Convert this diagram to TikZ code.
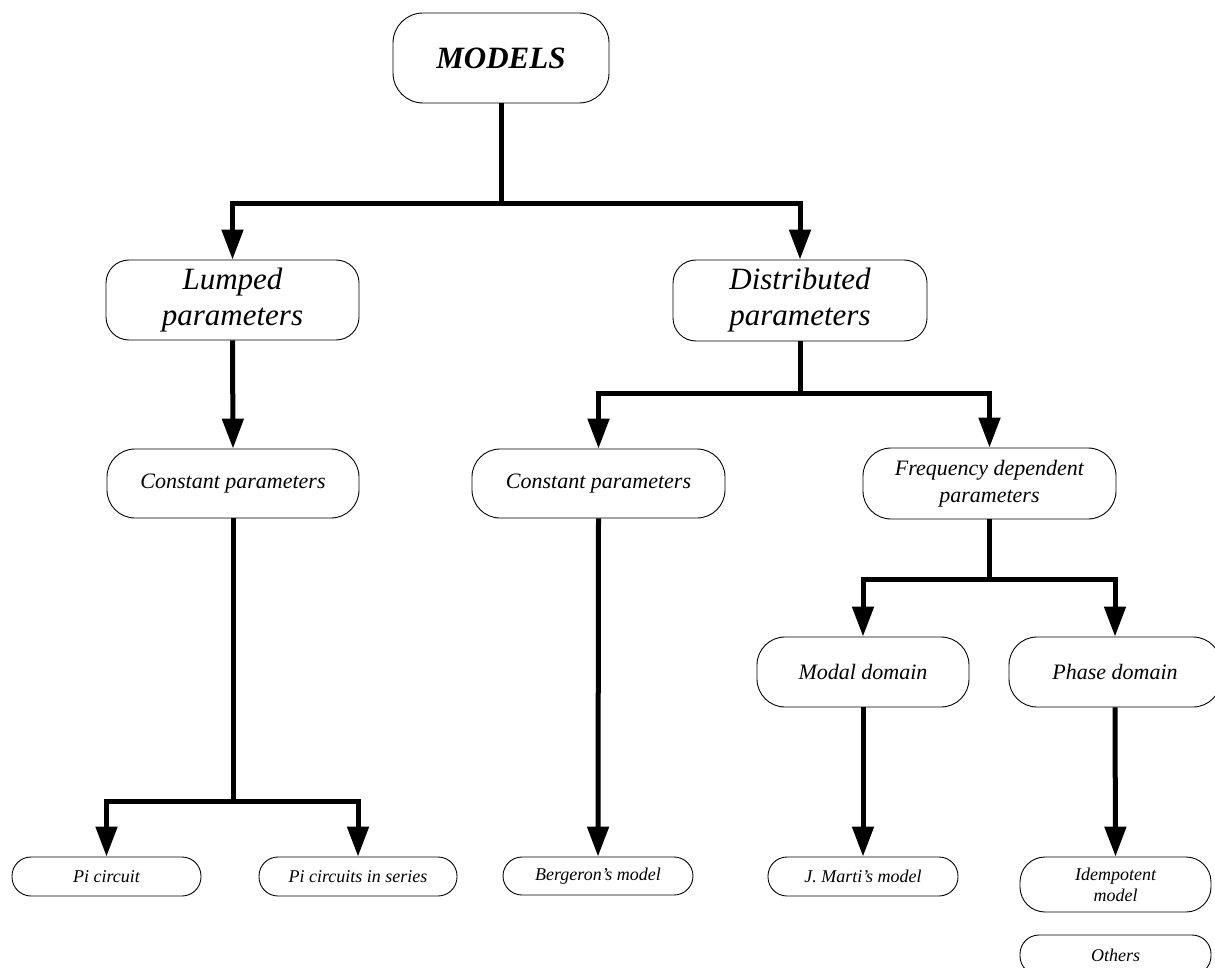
\documentclass[tikz,border=0pt]{standalone}
\usepackage{fontspec}
\setmainfont{Liberation Serif}
\usetikzlibrary{arrows.meta}
\begin{document}
\begin{tikzpicture}[x=1pt,y=-1pt,
  box/.style={draw, line width=0.9pt, inner sep=0pt, align=center},
  bigfont/.style={font=\fontsize{31}{36}\selectfont\itshape},
  midfont/.style={font=\fontsize{22}{27}\selectfont\itshape},
  smallfont/.style={font=\fontsize{18}{21}\selectfont\itshape},
  link/.style={line width=5pt},
  arr/.style={line width=5pt, -{Triangle[length=30pt,width=21pt]}}]
\useasboundingbox (0,0) rectangle (1215,968);

% nodes
\node[box, rounded corners=30pt, minimum width=216pt, minimum height=90pt,
      font=\fontsize{31}{36}\selectfont\bfseries\itshape] (models) at (501,58) {MODELS};
\node[box, bigfont, rounded corners=23pt, minimum width=253pt, minimum height=80pt] (lumped) at (232.5,300) {Lumped\\parameters};
\node[box, bigfont, rounded corners=23pt, minimum width=254pt, minimum height=81pt] (dist) at (800,300.5) {Distributed\\parameters};
\node[box, midfont, rounded corners=28pt, minimum width=252pt, minimum height=69pt] (constL) at (233,483.5) {Constant parameters};
\node[box, midfont, rounded corners=28pt, minimum width=253pt, minimum height=69pt] (constM) at (598.5,483.5) {Constant parameters};
\node[box, midfont, rounded corners=28pt, minimum width=253pt, minimum height=71pt] (freq) at (989.5,483.5) {Frequency dependent\\parameters};
\node[box, midfont, rounded corners=28pt, minimum width=212pt, minimum height=70pt] (modal) at (863,672) {Modal domain};
\node[box, midfont, rounded corners=28pt, minimum width=212pt, minimum height=70pt] (phase) at (1115,672) {Phase domain};
\node[box, smallfont, rounded corners=19pt, minimum width=189pt, minimum height=39pt] (pi) at (106.5,876.5) {Pi circuit};
\node[box, smallfont, rounded corners=19pt, minimum width=198pt, minimum height=39pt] (pis) at (358,876.5) {Pi circuits in series};
\node[box, smallfont, rounded corners=19pt, minimum width=190pt, minimum height=38pt] (berg) at (598,876) {Bergeron's model};
\node[box, smallfont, rounded corners=19pt, minimum width=190pt, minimum height=39pt] (marti) at (863,876.5) {J. Marti's model};
\node[box, smallfont, rounded corners=25pt, minimum width=191pt, minimum height=55pt] (idem) at (1115.5,884.5) {Idempotent\\model};
\node[box, smallfont, rounded corners=19pt, minimum width=191pt, minimum height=40pt] (others) at (1115.5,955) {Others};

% junctions
\coordinate (j1) at (501,204);
\coordinate (j2) at (800,393);
\coordinate (j3) at (233,801);
\coordinate (j4) at (989.5,579);

% connectors
\draw[arr] (models.south) -- (j1) -| (lumped.north);
\draw[arr] (j1) -| (dist.north);
\draw[arr] (lumped.south) -- (constL.north);
\draw[arr] (dist.south) -- (j2) -| (constM.north);
\draw[arr] (j2) -| (freq.north);
\draw[arr] (constL.south) -- (j3) -| (pi.north);
\draw[arr] (j3) -| (pis.north);
\draw[arr] (constM.south) -- (berg.north);
\draw[arr] (freq.south) -- (j4) -| (modal.north);
\draw[arr] (j4) -| (phase.north);
\draw[arr] (modal.south) -- (marti.north);
\draw[arr] (phase.south) -- (idem.north);
\end{tikzpicture}
\end{document}
